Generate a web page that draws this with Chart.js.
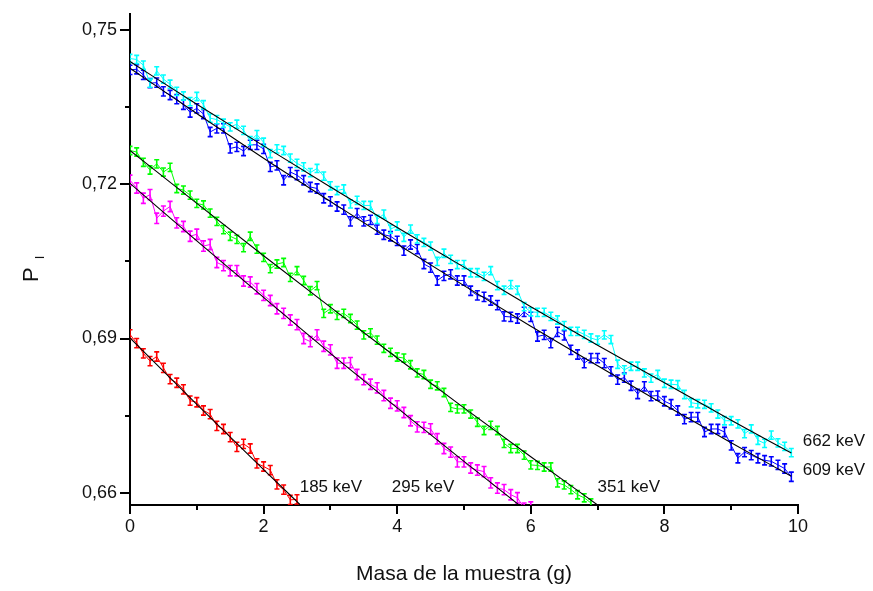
<!DOCTYPE html>
<html>
<head>
<meta charset="utf-8">
<script src="https://cdn.jsdelivr.net/npm/chart.js@4.4.1/dist/chart.umd.min.js"></script>
<style>
  html, body { margin: 0; padding: 0; background: #fff; }
  #grafico { display: block; }
</style>
</head>
<body>
<canvas id="grafico" width="873" height="591"></canvas>
<script>
// Masa de la muestra (g) de cada medida
var masa = [
  0, 0.1, 0.2, 0.3, 0.4, 0.5, 0.6, 0.7, 0.8, 0.9,
  1, 1.1, 1.2, 1.3, 1.4, 1.5, 1.6, 1.7, 1.8, 1.9,
  2, 2.1, 2.2, 2.3, 2.4, 2.5, 2.6, 2.7, 2.8, 2.9,
  3, 3.1, 3.2, 3.3, 3.4, 3.5, 3.6, 3.7, 3.8, 3.9,
  4, 4.1, 4.2, 4.3, 4.4, 4.5, 4.6, 4.7, 4.8, 4.9,
  5, 5.1, 5.2, 5.3, 5.4, 5.5, 5.6, 5.7, 5.8, 5.9,
  6, 6.1, 6.2, 6.3, 6.4, 6.5, 6.6, 6.7, 6.8, 6.9,
  7, 7.1, 7.2, 7.3, 7.4, 7.5, 7.6, 7.7, 7.8, 7.9,
  8, 8.1, 8.2, 8.3, 8.4, 8.5, 8.6, 8.7, 8.8, 8.9,
  9, 9.1, 9.2, 9.3, 9.4, 9.5, 9.6, 9.7, 9.8, 9.9
];

// P_I medido para cada energia
var p662 = [
  0.7445, 0.7443, 0.7432, 0.7397, 0.7421, 0.7405, 0.7395, 0.7381, 0.7372, 0.7361,
  0.7371, 0.7355, 0.7329, 0.7326, 0.7319, 0.7312, 0.7317, 0.7305, 0.7285, 0.7297,
  0.7282, 0.7260, 0.7269, 0.7266, 0.7251, 0.7241, 0.7234, 0.7223, 0.7231, 0.7216,
  0.7197, 0.7188, 0.7191, 0.7162, 0.7169, 0.7159, 0.7159, 0.7132, 0.7142, 0.7113,
  0.7119, 0.7097, 0.7113, 0.7094, 0.7087, 0.7080, 0.7050, 0.7066, 0.7054, 0.7044,
  0.7044, 0.7028, 0.7028, 0.7021, 0.7032, 0.7003, 0.6994, 0.7005, 0.6994, 0.6962,
  0.6952, 0.6951, 0.6951, 0.6943, 0.6936, 0.6925, 0.6914, 0.6914, 0.6908, 0.6901,
  0.6897, 0.6907, 0.6898, 0.6850, 0.6839, 0.6846, 0.6846, 0.6833, 0.6823, 0.6830,
  0.6813, 0.6811, 0.6810, 0.6791, 0.6775, 0.6773, 0.6772, 0.6765, 0.6753, 0.6740,
  0.6740, 0.6734, 0.6715, 0.6724, 0.6702, 0.6696, 0.6712, 0.6697, 0.6690, 0.6678
];
var p609 = [
  0.7423, 0.7424, 0.7413, 0.7397, 0.7398, 0.7381, 0.7374, 0.7366, 0.7355, 0.7340,
  0.7348, 0.7337, 0.7302, 0.7309, 0.7309, 0.7270, 0.7273, 0.7265, 0.7277, 0.7277,
  0.7269, 0.7234, 0.7237, 0.7208, 0.7224, 0.7218, 0.7208, 0.7195, 0.7192, 0.7173,
  0.7167, 0.7157, 0.7151, 0.7128, 0.7144, 0.7128, 0.7131, 0.7112, 0.7102, 0.7099,
  0.7090, 0.7071, 0.7083, 0.7074, 0.7045, 0.7038, 0.7013, 0.7022, 0.7025, 0.7013,
  0.7013, 0.6993, 0.6984, 0.6981, 0.6974, 0.6965, 0.6943, 0.6942, 0.6939, 0.6952,
  0.6942, 0.6904, 0.6907, 0.6891, 0.6913, 0.6906, 0.6878, 0.6869, 0.6852, 0.6862,
  0.6862, 0.6852, 0.6836, 0.6820, 0.6824, 0.6808, 0.6792, 0.6807, 0.6788, 0.6789,
  0.6778, 0.6772, 0.6760, 0.6743, 0.6747, 0.6747, 0.6718, 0.6724, 0.6724, 0.6718,
  0.6692, 0.6667, 0.6679, 0.6673, 0.6667, 0.6663, 0.6661, 0.6654, 0.6647, 0.6631
];
var p351 = [
  0.7266, 0.7263, 0.7243, 0.7228, 0.7240, 0.7224, 0.7233, 0.7192, 0.7189, 0.7179,
  0.7163, 0.7160, 0.7144, 0.7128, 0.7112, 0.7099, 0.7093, 0.7077, 0.7099, 0.7074,
  0.7058, 0.7036, 0.7045, 0.7048, 0.7019, 0.7032, 0.7013, 0.6993, 0.7003, 0.6949,
  0.6958, 0.6945, 0.6949, 0.6939, 0.6926, 0.6907, 0.6911, 0.6897, 0.6881, 0.6873,
  0.6864, 0.6862, 0.6849, 0.6833, 0.6830, 0.6811, 0.6808, 0.6795, 0.6766, 0.6763,
  0.6763, 0.6753, 0.6737, 0.6721, 0.6731, 0.6721, 0.6696, 0.6686, 0.6686, 0.6673,
  0.6654, 0.6653, 0.6650, 0.6650, 0.6619, 0.6615, 0.6606, 0.6596, 0.6590, 0.6580
];
var p295 = [
  0.7208, 0.7193, 0.7173, 0.7180, 0.7134, 0.7148, 0.7157, 0.7125, 0.7118, 0.7099,
  0.7103, 0.7080, 0.7083, 0.7048, 0.7042, 0.7032, 0.7032, 0.7012, 0.7010, 0.6997,
  0.6984, 0.6974, 0.6958, 0.6949, 0.6936, 0.6927, 0.6900, 0.6894, 0.6907, 0.6885,
  0.6878, 0.6852, 0.6852, 0.6853, 0.6830, 0.6820, 0.6811, 0.6804, 0.6789, 0.6774,
  0.6769, 0.6756, 0.6740, 0.6728, 0.6727, 0.6724, 0.6705, 0.6686, 0.6679, 0.6660,
  0.6660, 0.6648, 0.6644, 0.6641, 0.6619, 0.6609, 0.6606, 0.6596, 0.6590, 0.6570,
  0.6572
];
var p185 = [
  0.6908, 0.6891, 0.6871, 0.6856, 0.6865, 0.6843, 0.6821, 0.6814, 0.6801, 0.6779,
  0.6776, 0.6760, 0.6753, 0.6730, 0.6724, 0.6708, 0.6689, 0.6695, 0.6686, 0.6657,
  0.6651, 0.6644, 0.6616, 0.6606, 0.6586, 0.6587
];

// incertidumbre de cada serie (662, 609, 351, 295, 185 keV)
var errores = [0.0008, 0.0009, 0.0008, 0.0010, 0.0009];

// curvas de ajuste
var masaAjuste = [0, 1, 2, 3, 4, 5, 6, 7, 8, 9, 9.9];
var masaAjuste185 = [0, 1, 2, 2.6];
var ajuste662 = [0.7439, 0.7356, 0.7275, 0.7195, 0.7116, 0.7039, 0.6962, 0.6887, 0.6814, 0.6741, 0.6677];
var ajuste609 = [0.7426, 0.7338, 0.7251, 0.7167, 0.7084, 0.7003, 0.6924, 0.6847, 0.6771, 0.6697, 0.6632];
var ajuste351 = [0.7266, 0.7163, 0.7061, 0.6961, 0.6862, 0.6765, 0.6670, 0.6576];
var ajuste295 = [0.7202, 0.7090, 0.6980, 0.6871, 0.6765, 0.6661, 0.6558];
var ajuste185 = [0.6901, 0.6772, 0.6645, 0.6570];

var etiquetas = ["662 keV", "609 keV", "351 keV", "295 keV", "185 keV"];
var colores = ["#00ffff", "#0000ff", "#00ff00", "#ff00ff", "#ff0000"];

// donde va cada etiqueta (masa, P_I)
var etiquetaMasa = [10.07, 10.07, 7.0, 3.92, 2.54];
var etiquetaP = [0.6699, 0.6643, 0.6610, 0.6611, 0.6611];

var ticksX = [0, 1, 2, 3, 4, 5, 6, 7, 8, 9, 10];
var ticksY = [0.66, 0.675, 0.69, 0.705, 0.72, 0.735, 0.75];

var fuente = "'Liberation Sans', Arial, sans-serif";

function puntos(xs, ys) {
  return ys.map(function (y, i) { return { x: xs[i], y: y }; });
}

function serie(valores, i) {
  return {
    label: etiquetas[i],
    data: puntos(masa, valores),
    borderColor: colores[i],
    borderWidth: 1,
    pointRadius: 0,
    showLine: true,
    tension: 0,
    err: errores[i],
    order: 1
  };
}

function ajuste(xs, valores) {
  return {
    data: puntos(xs, valores),
    borderColor: "#000",
    borderWidth: 1.1,
    pointRadius: 0,
    showLine: true,
    cubicInterpolationMode: "monotone",
    order: 0
  };
}

// barras de error verticales con remate
var barrasError = {
  id: "barrasError",
  afterDatasetDraw: function (chart, args) {
    var ds = chart.data.datasets[args.index];
    if (!ds.err) return;
    var ctx = chart.ctx;
    var area = chart.chartArea;
    var ys = chart.scales.y;
    ctx.save();
    ctx.beginPath();
    ctx.rect(area.left, area.top, area.right - area.left, area.bottom - area.top);
    ctx.clip();
    ctx.strokeStyle = ds.borderColor;
    ctx.lineWidth = 1.6;
    args.meta.data.forEach(function (el, i) {
      var v = ds.data[i].y;
      var x = el.x;
      var y1 = ys.getPixelForValue(v + ds.err);
      var y2 = ys.getPixelForValue(v - ds.err);
      ctx.beginPath();
      ctx.moveTo(x, y1); ctx.lineTo(x, y2);
      ctx.moveTo(x - 2.5, y1); ctx.lineTo(x + 2.5, y1);
      ctx.moveTo(x - 2.5, y2); ctx.lineTo(x + 2.5, y2);
      ctx.stroke();
    });
    ctx.restore();
  }
};

// marcas de los ejes, etiqueta P_I y nombres de las series
var decoracion = {
  id: "decoracion",
  afterDraw: function (chart) {
    var ctx = chart.ctx;
    var area = chart.chartArea;
    var xs = chart.scales.x;
    var ys = chart.scales.y;
    ctx.save();
    ctx.strokeStyle = "#000";
    ctx.lineWidth = 2;
    ticksX.forEach(function (v, i) {
      var px = Math.round(xs.getPixelForValue(v));
      var largo = i % 2 === 0 ? 9 : 5;
      ctx.beginPath();
      ctx.moveTo(px, area.bottom);
      ctx.lineTo(px, area.bottom + largo);
      ctx.stroke();
    });
    ticksY.forEach(function (v, i) {
      var py = Math.round(ys.getPixelForValue(v));
      var largo = i % 2 === 0 ? 10 : 5;
      ctx.beginPath();
      ctx.moveTo(area.left, py);
      ctx.lineTo(area.left - largo, py);
      ctx.stroke();
    });

    ctx.fillStyle = "#111";
    ctx.textAlign = "left";
    ctx.textBaseline = "middle";
    ctx.font = "17px " + fuente;
    etiquetas.forEach(function (t, i) {
      ctx.fillText(t, xs.getPixelForValue(etiquetaMasa[i]), ys.getPixelForValue(etiquetaP[i]));
    });

    ctx.translate(38, 282);
    ctx.rotate(-Math.PI / 2);
    ctx.textBaseline = "alphabetic";
    ctx.font = "22px " + fuente;
    ctx.fillText("P", 0, 0);
    var w = ctx.measureText("P").width;
    ctx.font = "13px " + fuente;
    ctx.fillText("I", w + 8, 6);
    ctx.restore();
  }
};

var ctx = document.getElementById("grafico").getContext("2d");

var grafico = new Chart(ctx, {
  type: "scatter",
  data: {
    datasets: [
      serie(p662, 0),
      serie(p609, 1),
      serie(p351, 2),
      serie(p295, 3),
      serie(p185, 4),
      ajuste(masaAjuste, ajuste662),
      ajuste(masaAjuste, ajuste609),
      ajuste(masaAjuste.slice(0, 8), ajuste351),
      ajuste(masaAjuste.slice(0, 7), ajuste295),
      ajuste(masaAjuste185, ajuste185)
    ]
  },
  options: {
    responsive: false,
    animation: false,
    layout: { padding: { top: 7, right: 75, bottom: 0, left: 0 } },
    plugins: { legend: { display: false }, tooltip: { enabled: false } },
    scales: {
      x: {
        type: "linear",
        min: 0,
        max: 10,
        afterBuildTicks: function (s) { s.ticks = ticksX.map(function (v) { return { value: v }; }); },
        afterFit: function (s) { s.height = 86; },
        grid: { drawOnChartArea: false, color: "rgba(0,0,0,0)", tickLength: 10 },
        border: { color: "#000", width: 2 },
        ticks: {
          color: "#111",
          font: { family: fuente, size: 18 },
          padding: 1,
          maxRotation: 0,
          autoSkip: false,
          callback: function (v, i) { return i % 2 === 0 ? String(v) : ""; }
        },
        title: {
          display: true,
          text: "Masa de la muestra (g)",
          color: "#111",
          font: { family: fuente, size: 21 },
          padding: { top: 0, bottom: 4 }
        }
      },
      y: {
        type: "linear",
        min: 0.6576,
        max: 0.7532,
        afterBuildTicks: function (s) { s.ticks = ticksY.map(function (v) { return { value: v }; }); },
        afterFit: function (s) { s.width = 130; },
        grid: { drawOnChartArea: false, color: "rgba(0,0,0,0)", tickLength: 10 },
        border: { color: "#000", width: 2 },
        ticks: {
          color: "#111",
          font: { family: fuente, size: 18 },
          padding: 3,
          autoSkip: false,
          callback: function (v, i) { return i % 2 === 0 ? v.toFixed(2).replace(".", ",") : ""; }
        }
      }
    }
  },
  plugins: [barrasError, decoracion]
});
</script>
</body>
</html>
